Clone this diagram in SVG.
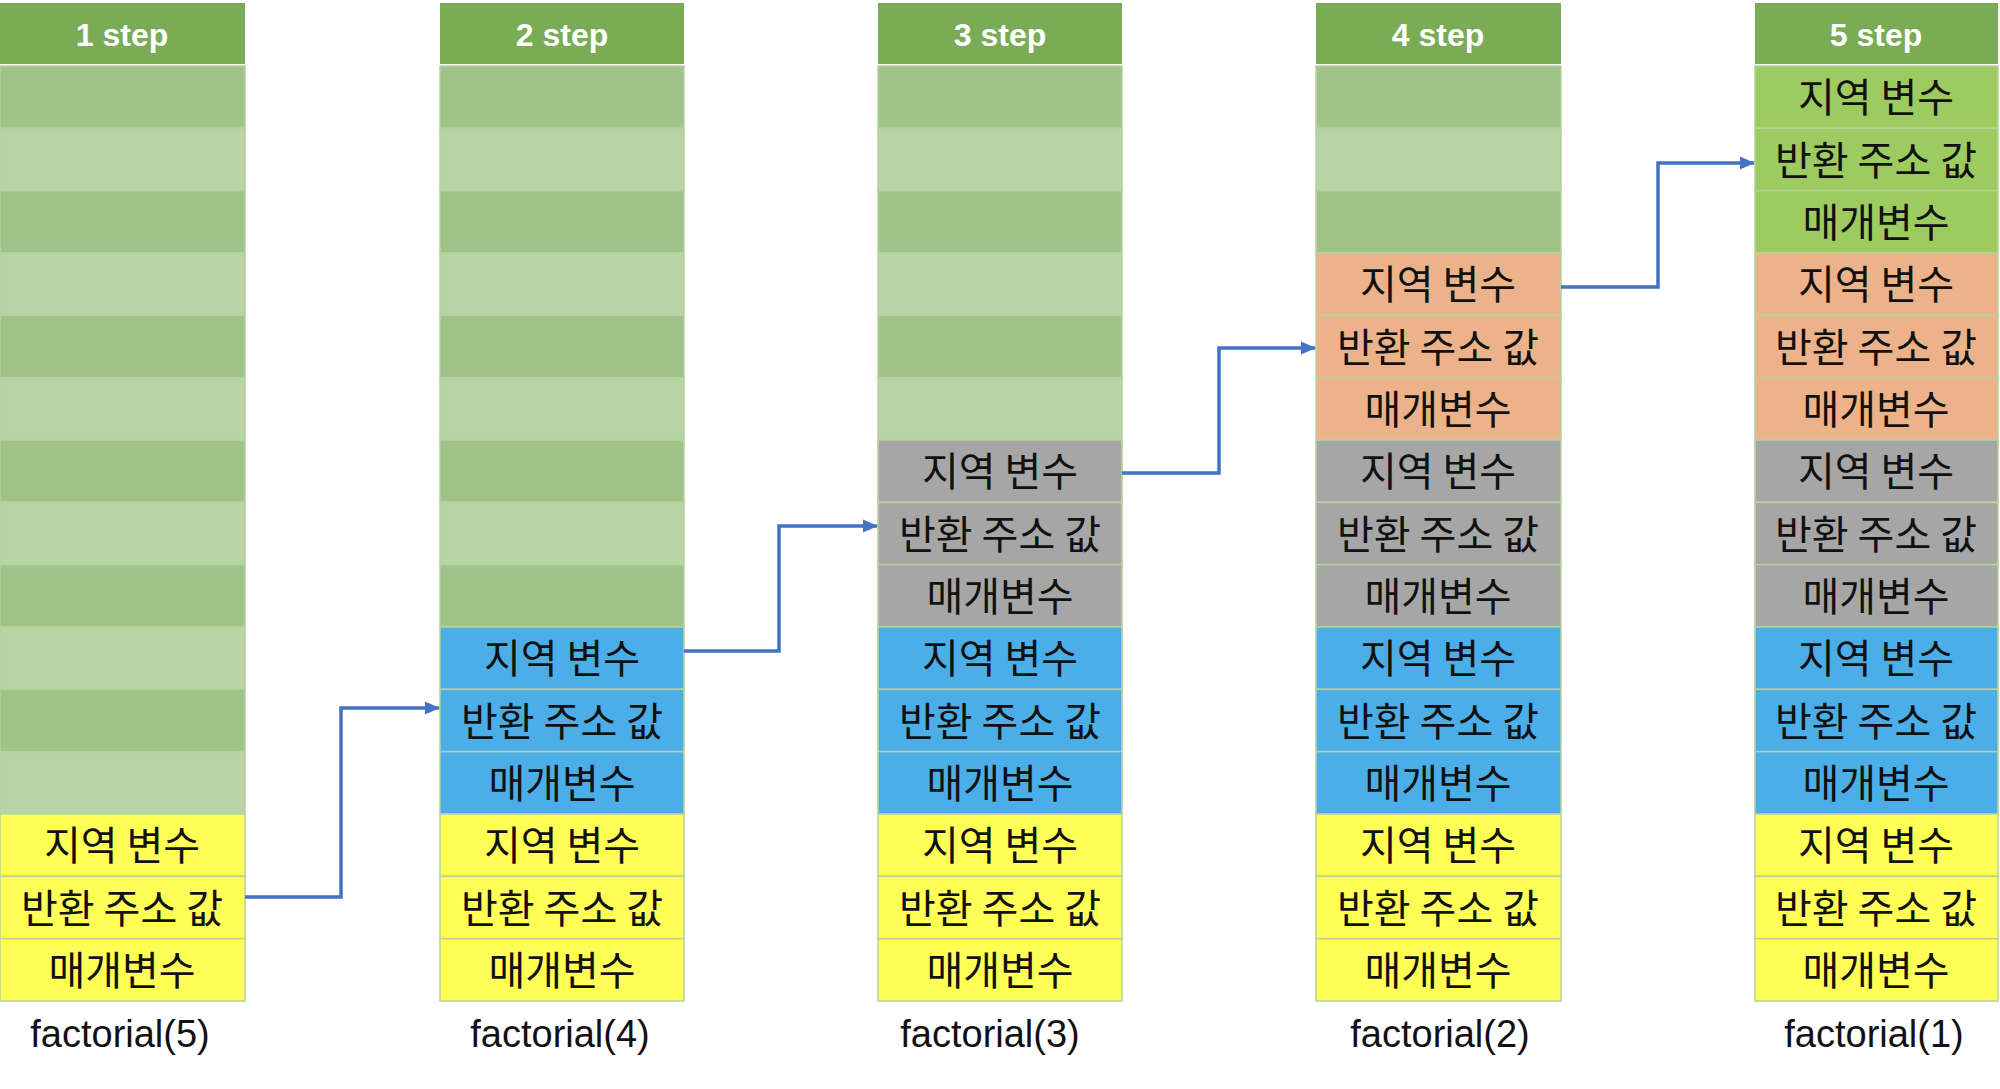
<svg xmlns="http://www.w3.org/2000/svg" width="2000" height="1089" viewBox="0 0 2000 1089">
<style>
.hd{fill:#7aab55}
.g1{fill:#a0c38a}
.g2{fill:#b8d3a5}
.gb{fill:#9dcb5f}
.y{fill:#ffff55}
.b{fill:#4baee8}
.gr{fill:#a6a6a6}
.o{fill:#ecb28a}
.cell{stroke:#b5d29a;stroke-width:1.5}
.ht{font-family:"Liberation Sans",Arial,sans-serif;font-weight:bold;font-size:32px;fill:#ffffff;text-anchor:middle}
.kt{font-family:"Noto Sans CJK KR","Noto Sans",sans-serif;font-size:40px;fill:#111111;text-anchor:middle;dominant-baseline:central}
.ft{font-family:"Liberation Sans",Arial,sans-serif;font-size:38px;fill:#111111;text-anchor:middle}
.ar{fill:none;stroke:#4472c4;stroke-width:3.5}
</style>
<defs>
<marker id="ah" markerUnits="userSpaceOnUse" markerWidth="16" markerHeight="16" refX="14" refY="8" orient="auto">
<path d="M0,1.5 L15,8 L0,14.5 Z" fill="#4472c4"/>
</marker>
</defs>
<rect width="2000" height="1089" fill="#ffffff"/>

<g id="col1">
<rect class="hd" x="0" y="3" width="245" height="61"/>
<text class="ht" x="122" y="46">1 step</text>
<rect class="g1 cell" x="0" y="66" width="245" height="62.33"/>
<rect class="g2 cell" x="0" y="128.33" width="245" height="62.33"/>
<rect class="g1 cell" x="0" y="190.67" width="245" height="62.33"/>
<rect class="g2 cell" x="0" y="253" width="245" height="62.33"/>
<rect class="g1 cell" x="0" y="315.33" width="245" height="62.33"/>
<rect class="g2 cell" x="0" y="377.67" width="245" height="62.33"/>
<rect class="g1 cell" x="0" y="440" width="245" height="62.33"/>
<rect class="g2 cell" x="0" y="502.33" width="245" height="62.33"/>
<rect class="g1 cell" x="0" y="564.67" width="245" height="62.33"/>
<rect class="g2 cell" x="0" y="627" width="245" height="62.33"/>
<rect class="g1 cell" x="0" y="689.33" width="245" height="62.33"/>
<rect class="g2 cell" x="0" y="751.67" width="245" height="62.33"/>
<rect class="y cell" x="0" y="814" width="245" height="62.33"/>
<rect class="y cell" x="0" y="876.33" width="245" height="62.33"/>
<rect class="y cell" x="0" y="938.67" width="245" height="62.33"/>
<text class="kt" x="122" y="843">지역 변수</text>
<text class="kt" x="122" y="905.5">반환 주소 값</text>
<text class="kt" x="122" y="968">매개변수</text>
<text class="ft" x="120" y="1047">factorial(5)</text>
</g>

<g id="col2">
<rect class="hd" x="440" y="3" width="244" height="61"/>
<text class="ht" x="562" y="46">2 step</text>
<rect class="g1 cell" x="440" y="66" width="244" height="62.33"/>
<rect class="g2 cell" x="440" y="128.33" width="244" height="62.33"/>
<rect class="g1 cell" x="440" y="190.67" width="244" height="62.33"/>
<rect class="g2 cell" x="440" y="253" width="244" height="62.33"/>
<rect class="g1 cell" x="440" y="315.33" width="244" height="62.33"/>
<rect class="g2 cell" x="440" y="377.67" width="244" height="62.33"/>
<rect class="g1 cell" x="440" y="440" width="244" height="62.33"/>
<rect class="g2 cell" x="440" y="502.33" width="244" height="62.33"/>
<rect class="g1 cell" x="440" y="564.67" width="244" height="62.33"/>
<rect class="b cell" x="440" y="627" width="244" height="62.33"/>
<rect class="b cell" x="440" y="689.33" width="244" height="62.33"/>
<rect class="b cell" x="440" y="751.67" width="244" height="62.33"/>
<rect class="y cell" x="440" y="814" width="244" height="62.33"/>
<rect class="y cell" x="440" y="876.33" width="244" height="62.33"/>
<rect class="y cell" x="440" y="938.67" width="244" height="62.33"/>
<text class="kt" x="562" y="656">지역 변수</text>
<text class="kt" x="562" y="718.5">반환 주소 값</text>
<text class="kt" x="562" y="781">매개변수</text>
<text class="kt" x="562" y="843">지역 변수</text>
<text class="kt" x="562" y="905.5">반환 주소 값</text>
<text class="kt" x="562" y="968">매개변수</text>
<text class="ft" x="560" y="1047">factorial(4)</text>
</g>

<g id="col3">
<rect class="hd" x="878" y="3" width="244" height="61"/>
<text class="ht" x="1000" y="46">3 step</text>
<rect class="g1 cell" x="878" y="66" width="244" height="62.33"/>
<rect class="g2 cell" x="878" y="128.33" width="244" height="62.33"/>
<rect class="g1 cell" x="878" y="190.67" width="244" height="62.33"/>
<rect class="g2 cell" x="878" y="253" width="244" height="62.33"/>
<rect class="g1 cell" x="878" y="315.33" width="244" height="62.33"/>
<rect class="g2 cell" x="878" y="377.67" width="244" height="62.33"/>
<rect class="gr cell" x="878" y="440" width="244" height="62.33"/>
<rect class="gr cell" x="878" y="502.33" width="244" height="62.33"/>
<rect class="gr cell" x="878" y="564.67" width="244" height="62.33"/>
<rect class="b cell" x="878" y="627" width="244" height="62.33"/>
<rect class="b cell" x="878" y="689.33" width="244" height="62.33"/>
<rect class="b cell" x="878" y="751.67" width="244" height="62.33"/>
<rect class="y cell" x="878" y="814" width="244" height="62.33"/>
<rect class="y cell" x="878" y="876.33" width="244" height="62.33"/>
<rect class="y cell" x="878" y="938.67" width="244" height="62.33"/>
<text class="kt" x="1000" y="469">지역 변수</text>
<text class="kt" x="1000" y="531.5">반환 주소 값</text>
<text class="kt" x="1000" y="594">매개변수</text>
<text class="kt" x="1000" y="656">지역 변수</text>
<text class="kt" x="1000" y="718.5">반환 주소 값</text>
<text class="kt" x="1000" y="781">매개변수</text>
<text class="kt" x="1000" y="843">지역 변수</text>
<text class="kt" x="1000" y="905.5">반환 주소 값</text>
<text class="kt" x="1000" y="968">매개변수</text>
<text class="ft" x="990" y="1047">factorial(3)</text>
</g>

<g id="col4">
<rect class="hd" x="1316" y="3" width="245" height="61"/>
<text class="ht" x="1438" y="46">4 step</text>
<rect class="g1 cell" x="1316" y="66" width="245" height="62.33"/>
<rect class="g2 cell" x="1316" y="128.33" width="245" height="62.33"/>
<rect class="g1 cell" x="1316" y="190.67" width="245" height="62.33"/>
<rect class="o cell" x="1316" y="253" width="245" height="62.33"/>
<rect class="o cell" x="1316" y="315.33" width="245" height="62.33"/>
<rect class="o cell" x="1316" y="377.67" width="245" height="62.33"/>
<rect class="gr cell" x="1316" y="440" width="245" height="62.33"/>
<rect class="gr cell" x="1316" y="502.33" width="245" height="62.33"/>
<rect class="gr cell" x="1316" y="564.67" width="245" height="62.33"/>
<rect class="b cell" x="1316" y="627" width="245" height="62.33"/>
<rect class="b cell" x="1316" y="689.33" width="245" height="62.33"/>
<rect class="b cell" x="1316" y="751.67" width="245" height="62.33"/>
<rect class="y cell" x="1316" y="814" width="245" height="62.33"/>
<rect class="y cell" x="1316" y="876.33" width="245" height="62.33"/>
<rect class="y cell" x="1316" y="938.67" width="245" height="62.33"/>
<text class="kt" x="1438" y="282">지역 변수</text>
<text class="kt" x="1438" y="344.5">반환 주소 값</text>
<text class="kt" x="1438" y="407">매개변수</text>
<text class="kt" x="1438" y="469">지역 변수</text>
<text class="kt" x="1438" y="531.5">반환 주소 값</text>
<text class="kt" x="1438" y="594">매개변수</text>
<text class="kt" x="1438" y="656">지역 변수</text>
<text class="kt" x="1438" y="718.5">반환 주소 값</text>
<text class="kt" x="1438" y="781">매개변수</text>
<text class="kt" x="1438" y="843">지역 변수</text>
<text class="kt" x="1438" y="905.5">반환 주소 값</text>
<text class="kt" x="1438" y="968">매개변수</text>
<text class="ft" x="1440" y="1047">factorial(2)</text>
</g>

<g id="col5">
<rect class="hd" x="1755" y="3" width="243" height="61"/>
<text class="ht" x="1876" y="46">5 step</text>
<rect class="gb cell" x="1755" y="66" width="243" height="62.33"/>
<rect class="gb cell" x="1755" y="128.33" width="243" height="62.33"/>
<rect class="gb cell" x="1755" y="190.67" width="243" height="62.33"/>
<rect class="o cell" x="1755" y="253" width="243" height="62.33"/>
<rect class="o cell" x="1755" y="315.33" width="243" height="62.33"/>
<rect class="o cell" x="1755" y="377.67" width="243" height="62.33"/>
<rect class="gr cell" x="1755" y="440" width="243" height="62.33"/>
<rect class="gr cell" x="1755" y="502.33" width="243" height="62.33"/>
<rect class="gr cell" x="1755" y="564.67" width="243" height="62.33"/>
<rect class="b cell" x="1755" y="627" width="243" height="62.33"/>
<rect class="b cell" x="1755" y="689.33" width="243" height="62.33"/>
<rect class="b cell" x="1755" y="751.67" width="243" height="62.33"/>
<rect class="y cell" x="1755" y="814" width="243" height="62.33"/>
<rect class="y cell" x="1755" y="876.33" width="243" height="62.33"/>
<rect class="y cell" x="1755" y="938.67" width="243" height="62.33"/>
<text class="kt" x="1876" y="95">지역 변수</text>
<text class="kt" x="1876" y="157.5">반환 주소 값</text>
<text class="kt" x="1876" y="220">매개변수</text>
<text class="kt" x="1876" y="282">지역 변수</text>
<text class="kt" x="1876" y="344.5">반환 주소 값</text>
<text class="kt" x="1876" y="407">매개변수</text>
<text class="kt" x="1876" y="469">지역 변수</text>
<text class="kt" x="1876" y="531.5">반환 주소 값</text>
<text class="kt" x="1876" y="594">매개변수</text>
<text class="kt" x="1876" y="656">지역 변수</text>
<text class="kt" x="1876" y="718.5">반환 주소 값</text>
<text class="kt" x="1876" y="781">매개변수</text>
<text class="kt" x="1876" y="843">지역 변수</text>
<text class="kt" x="1876" y="905.5">반환 주소 값</text>
<text class="kt" x="1876" y="968">매개변수</text>
<text class="ft" x="1874" y="1047">factorial(1)</text>
</g>

<g id="connectors">
<path class="ar" d="M245,897 H341 V708 H439" marker-end="url(#ah)"/>
<path class="ar" d="M684,651 H779 V526 H877" marker-end="url(#ah)"/>
<path class="ar" d="M1122,473 H1219 V348 H1315" marker-end="url(#ah)"/>
<path class="ar" d="M1561,287 H1658 V163 H1754" marker-end="url(#ah)"/>
</g>
</svg>
